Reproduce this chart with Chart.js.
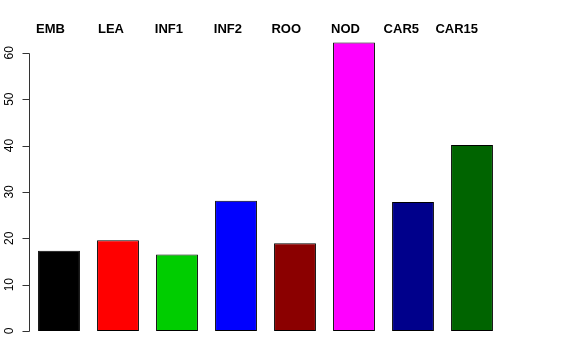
<!DOCTYPE html>
<html>
<head>
<meta charset="utf-8">
<script src="https://cdn.jsdelivr.net/npm/chart.js@4"></script>
<style>
  body { margin: 0; background: #fff; }
</style>
</head>
<body>
<canvas id="chart" width="576" height="360"></canvas>
<script>
// Data
const categories = ["EMB", "LEA", "INF1", "INF2", "ROO", "NOD", "CAR5", "CAR15"];
const values = [17.3, 19.6, 16.5, 28.1, 18.9, 62.2, 27.8, 40.1];
const barColors = ["#000000", "#FF0000", "#00CD00", "#0000FF", "#8B0000", "#FF00FF", "#00008B", "#006400"];
const yTicks = [0, 10, 20, 30, 40, 50, 60];

// Draws the R-style left axis and the bold labels on top
const rStyle = {
  id: "rStyle",
  afterDraw(chart) {
    const ctx = chart.ctx;
    const area = chart.chartArea;
    const x = chart.scales.x;
    const y = chart.scales.y;
    const axisX = area.left;

    ctx.save();
    ctx.strokeStyle = "#333";
    ctx.lineWidth = 1;
    ctx.beginPath();
    ctx.moveTo(axisX, Math.round(y.getPixelForValue(yTicks[0])) + 0.5);
    ctx.lineTo(axisX, Math.round(y.getPixelForValue(yTicks[yTicks.length - 1])) + 0.5);
    yTicks.forEach(t => {
      const py = Math.round(y.getPixelForValue(t)) + 0.5;
      ctx.moveTo(axisX, py);
      ctx.lineTo(axisX - 7, py);
    });
    ctx.stroke();

    // rotated tick labels
    ctx.fillStyle = "#000";
    ctx.font = "12px 'Liberation Sans', Arial, sans-serif";
    ctx.textAlign = "center";
    ctx.textBaseline = "alphabetic";
    yTicks.forEach(t => {
      const py = y.getPixelForValue(t);
      ctx.save();
      ctx.translate(13, py);
      ctx.rotate(-Math.PI / 2);
      ctx.fillText(String(t), 0, 0);
      ctx.restore();
    });

    // category labels along the top, right-aligned a little past each bar centre
    ctx.font = "bold 13px 'Liberation Sans', Arial, sans-serif";
    ctx.textAlign = "right";
    ctx.textBaseline = "middle";
    categories.forEach((c, i) => {
      ctx.fillText(c, x.getPixelForValue(i) + 6, 29);
    });
    ctx.restore();
  }
};

new Chart(document.getElementById("chart"), {
  type: "bar",
  data: {
    labels: categories,
    datasets: [{
      data: values,
      backgroundColor: barColors,
      borderColor: "#000",
      borderWidth: 1,
      borderSkipped: false,
      categoryPercentage: 1,
      barPercentage: 0.71
    }]
  },
  options: {
    responsive: false,
    animation: false,
    devicePixelRatio: 1,
    layout: { padding: { left: 29.5, right: 74.5, top: 25, bottom: 29 } },
    plugins: {
      legend: { display: false },
      tooltip: { enabled: false }
    },
    scales: {
      x: { display: false },
      y: { display: false, min: 0, max: 66 }
    }
  },
  plugins: [rStyle]
});
</script>
</body>
</html>
